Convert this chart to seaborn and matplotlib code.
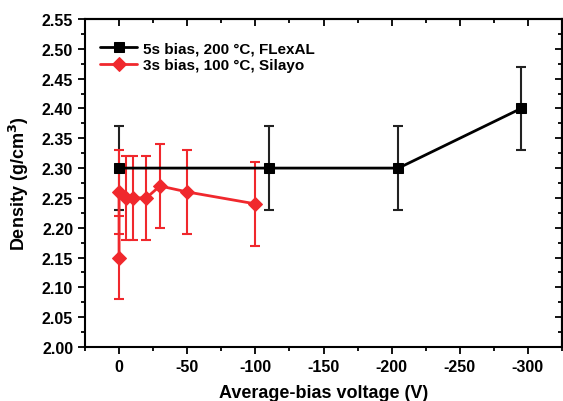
import matplotlib
matplotlib.use("Agg")
import matplotlib.pyplot as plt
import seaborn as sns
import pandas as pd
from matplotlib.ticker import MultipleLocator

# Data
black_label = "5s bias, 200 °C, FLexAL"
black_x = [0, -110, -205, -295]
black_y = [2.30, 2.30, 2.30, 2.40]
black_err = [0.07, 0.07, 0.07, 0.07]

red_label = "3s bias, 100 °C, Silayo"
red_x = [0, 0, -5, -10, -20, -30, -50, -100]
red_y = [2.15, 2.26, 2.25, 2.25, 2.25, 2.27, 2.26, 2.24]
red_err = [0.07, 0.07, 0.07, 0.07, 0.07, 0.07, 0.07, 0.07]

sns.set_theme(style="ticks")
plt.rcParams['font.family'] = ['Liberation Sans', 'DejaVu Sans']
plt.rcParams['font.weight'] = 'bold'
plt.rcParams['axes.unicode_minus'] = False
for k in ['text.color', 'axes.labelcolor', 'xtick.color', 'ytick.color',
          'axes.edgecolor', 'xtick.labelcolor', 'ytick.labelcolor']:
    plt.rcParams[k] = 'black'

fig = plt.figure(figsize=(5.63, 4.02), dpi=100)
ax = fig.add_axes([85/563, 54/402, 477/563, 328/402])

df_b = pd.DataFrame({"x": black_x, "y": black_y})
df_r = pd.DataFrame({"x": red_x, "y": red_y})

ax.errorbar(black_x, black_y, yerr=black_err, fmt='none', ecolor='#222222',
            elinewidth=1.5, capsize=3.5, capthick=1.5, zorder=2)
ax.errorbar(red_x, red_y, yerr=red_err, fmt='none', ecolor='#f0282d',
            elinewidth=1.5, capsize=3.5, capthick=1.5, zorder=2)

sns.lineplot(data=df_b, x="x", y="y", ax=ax, color='black', marker='s',
             markersize=7, markeredgecolor='black', linewidth=2,
             sort=False, estimator=None, label=black_label, zorder=3)
sns.lineplot(data=df_r, x="x", y="y", ax=ax, color='#f0282d', marker='D',
             markersize=7, markeredgecolor='#f0282d', linewidth=2,
             sort=False, estimator=None, label=red_label, zorder=3)

ax.set_xlim(25, -325)
ax.set_ylim(2.00, 2.55)
ax.xaxis.set_major_locator(MultipleLocator(50))
ax.xaxis.set_minor_locator(MultipleLocator(25))
ax.yaxis.set_major_locator(MultipleLocator(0.05))
ax.yaxis.set_minor_locator(MultipleLocator(0.025))
ax.yaxis.set_major_formatter(matplotlib.ticker.FormatStrFormatter('%.2f'))

ax.tick_params(which='both', direction='out', bottom=True, left=True,
               top=False, right=False, width=1.3, colors='black')
ax.tick_params(which='major', length=5, labelsize=11.5)
ax.tick_params(which='minor', length=3)

secx = ax.secondary_xaxis('top')
secx.xaxis.set_major_locator(MultipleLocator(50))
secx.xaxis.set_minor_locator(MultipleLocator(25))
secx.tick_params(which='both', direction='in', labeltop=False, width=1.3, colors='black')
secx.tick_params(which='major', length=5)
secx.tick_params(which='minor', length=3)
secy = ax.secondary_yaxis('right')
secy.yaxis.set_major_locator(MultipleLocator(0.05))
secy.yaxis.set_minor_locator(MultipleLocator(0.025))
secy.tick_params(which='both', direction='in', labelright=False, width=1.3, colors='black')
secy.tick_params(which='major', length=5)
secy.tick_params(which='minor', length=3)

for s in ax.spines.values():
    s.set_linewidth(1.5)
    s.set_color('black')
secx.spines['top'].set_linewidth(1.5)
secx.spines['top'].set_color('black')
secy.spines['right'].set_linewidth(1.5)
secy.spines['right'].set_color('black')

ax.set_xlabel("Average-bias voltage (V)", fontsize=13, fontweight='bold',
              labelpad=7, color='black')
ax.set_ylabel("Density (g/cm$^\\mathbf{3}$)", fontsize=13, fontweight='bold',
              labelpad=8, color='black')

leg = ax.legend(loc='upper left', frameon=False, fontsize=11,
                handlelength=2.4, handletextpad=0.4, borderaxespad=0.3,
                labelspacing=0.2, bbox_to_anchor=(0.01, 0.965))
for t in leg.get_texts():
    t.set_fontweight('bold')
    t.set_color('black')

fig.savefig("out.png", dpi=100)
